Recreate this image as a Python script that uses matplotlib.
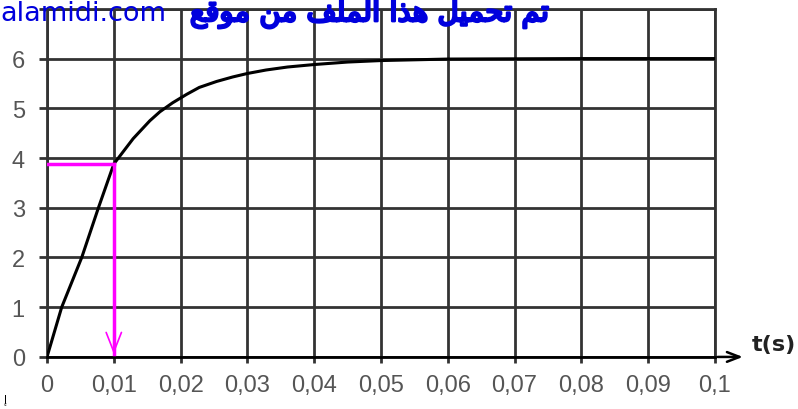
import numpy as np
import matplotlib.pyplot as plt
import matplotlib.patheffects as pe

# points
t = [0, 0.0022, 0.0052, 0.0077, 0.0100, 0.0129, 0.0154, 0.0169, 0.0188, 0.0209,
     0.0228, 0.0254, 0.0278, 0.0300, 0.0328, 0.0360, 0.0400, 0.0450, 0.05,
     0.06, 0.08, 0.1]
u = [0, 1.0, 2.0, 3.0, 3.88, 4.39, 4.75, 4.93, 5.11, 5.28,
     5.42, 5.54, 5.63, 5.70, 5.77, 5.83, 5.88, 5.93, 5.96,
     5.99, 6.0, 6.0]
t_tau = 0.01
u_tau = 3.88
xticks = [0, 0.01, 0.02, 0.03, 0.04, 0.05, 0.06, 0.07, 0.08, 0.09, 0.1]
xlabels = ['0', '0,01', '0,02', '0,03', '0,04', '0,05', '0,06', '0,07', '0,08', '0,09', '0,1']
yticks = [0, 1, 2, 3, 4, 5, 6, 7]
ylabels = ['0', '1', '2', '3', '4', '5', '6', '']

# "تم تحميل هذا الملف من موقع" written in shaped forms, visual order
arabic = ('\uFECA\uFED7\uFEEE\uFEE3 \uFEE6\uFEE3 \uFED2\uFEE0\uFEE4\uFEDF\uFE8D '
          '\uFE8D\uFEAC\uFEEB \uFEDE\uFEF4\uFEE4\uFEA4\uFE97 \uFEE2\uFE97')

fig = plt.figure(figsize=(7.98, 4.10), dpi=100)
ax = fig.add_axes([0.0589, 0.127, 0.837, 0.849])

ax.plot(t, u, color='black', lw=2.2, zorder=3)

# magenta construction at t = tau
ax.plot([0, t_tau], [u_tau, u_tau], color='#ff00ff', lw=2.5, zorder=4)
ax.plot([t_tau, t_tau], [u_tau, 0.05], color='#ff00ff', lw=2.5, zorder=4)
ax.annotate('', xy=(t_tau, 0), xytext=(t_tau, 0.6),
            arrowprops=dict(arrowstyle='->,head_length=1.4,head_width=0.55',
                            color='#ff00ff', lw=1.2), zorder=4)

ax.set_xlim(0, 0.1)
ax.set_ylim(0, 7)
ax.set_xticks(xticks)
ax.set_xticklabels(xlabels, fontsize=17, family='Liberation Sans', color='#555555')
ax.set_yticks(yticks)
ax.set_yticklabels(ylabels, fontsize=17, family='Liberation Sans', color='#555555')
ax.tick_params(axis='x', length=4, width=2, color='#333333', pad=8)
ax.tick_params(axis='y', length=6, width=2, color='#333333', pad=10)
ax.grid(True, color='#333333', lw=2)
for s in ax.spines.values():
    s.set_color('#333333')
    s.set_linewidth(2)
ax.spines['bottom'].set_color('black')

# time axis arrow
ax.annotate('', xy=(1.046, 0), xytext=(1.0, 0), xycoords='axes fraction',
            arrowprops=dict(arrowstyle='->,head_length=0.9,head_width=0.35',
                            color='black', lw=1.8))
fig.text(0.942, 0.159, 't(s)', fontsize=16, fontweight='bold',
         family='DejaVu Sans', color='#222222', va='center', ha='left')

# site watermark
fig.text(0.0, 0.949, 'alamidi.com', fontsize=19.5, family='DejaVu Sans',
         color='#0000dd', va='baseline', ha='left')
fig.text(0.238, 0.946, arabic, fontsize=21, family=['DejaVu Sans'],
         color='#0000dd', va='baseline', ha='left',
         path_effects=[pe.withStroke(linewidth=1.8, foreground='#0000dd')])
fig.text(0.004, 0.02, 'إ', fontsize=8, color='black')

fig.savefig('out.png', dpi=100)
